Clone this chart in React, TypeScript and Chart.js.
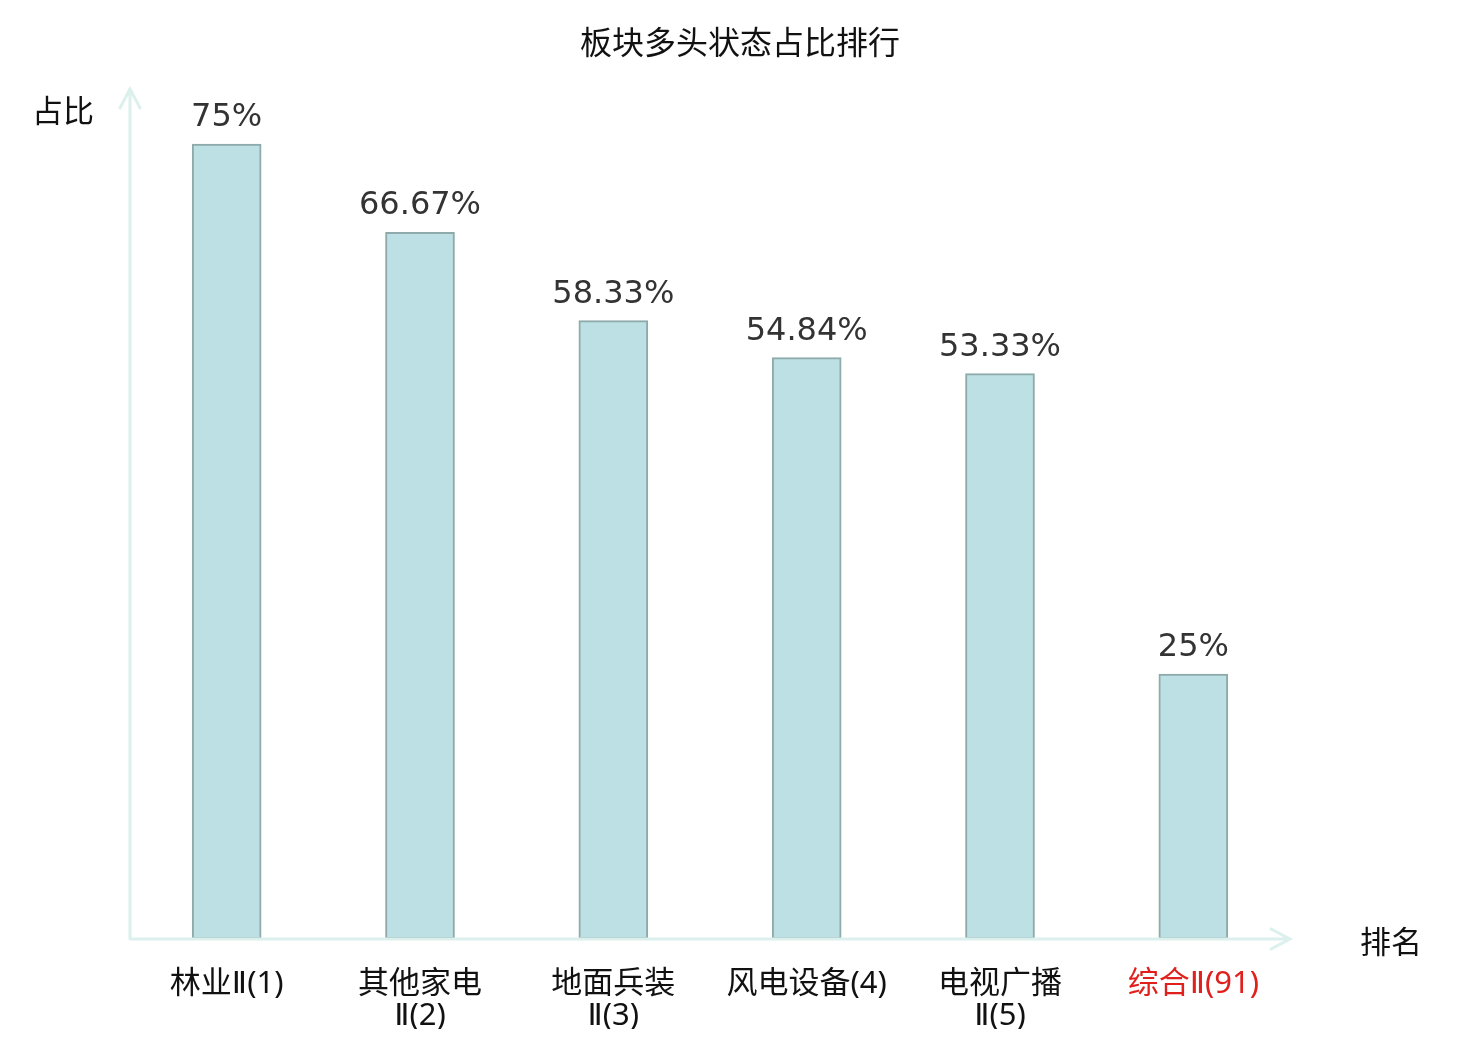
import { useEffect, useRef } from 'react';
import { Chart, registerables, Plugin } from 'chart.js';

Chart.register(...registerables);

const categories: (string | string[])[] = [
  '林业Ⅱ(1)',
  ['其他家电', 'Ⅱ(2)'],
  ['地面兵装', 'Ⅱ(3)'],
  '风电设备(4)',
  ['电视广播', 'Ⅱ(5)'],
  '综合Ⅱ(91)',
];
const ratios = [75, 66.67, 58.33, 54.84, 53.33, 25];
const highlightIndex = 5;

const TITLE = '板块多头状态占比排行';
const Y_NAME = '占比';
const X_NAME = '排名';

const AXIS_COLOR = '#dcf0ee';
const CJK = '"Noto Sans CJK SC", "DejaVu Sans", sans-serif';
const TICK_FONT = '"Noto Sans", "DejaVu Sans", "Noto Sans CJK SC", sans-serif';

const decorPlugin: Plugin<'bar'> = {
  id: 'decor',
  afterDraw(chart) {
    const { ctx, chartArea } = chart;
    const y = chart.scales.y;
    const base = y.getPixelForValue(0);
    const left = chartArea.left;
    const right = chartArea.right;
    const top = chartArea.top;

    ctx.save();
    // axes with arrows
    ctx.strokeStyle = AXIS_COLOR;
    ctx.lineWidth = 3;
    ctx.lineCap = 'round';
    ctx.beginPath();
    ctx.moveTo(left, base);
    ctx.lineTo(right, base);
    ctx.moveTo(right - 19, base - 10);
    ctx.lineTo(right, base);
    ctx.lineTo(right - 19, base + 10);
    ctx.moveTo(left, base);
    ctx.lineTo(left, top - 2);
    ctx.moveTo(left - 10, top + 17);
    ctx.lineTo(left, top - 2);
    ctx.lineTo(left + 10, top + 17);
    ctx.stroke();

    // value labels
    ctx.fillStyle = '#333333';
    ctx.font = '32px "DejaVu Sans", sans-serif';
    ctx.textAlign = 'center';
    ctx.textBaseline = 'alphabetic';
    const meta = chart.getDatasetMeta(0);
    meta.data.forEach((bar, i) => {
      ctx.fillText(`${ratios[i]}%`, bar.x, bar.y - 18);
    });

    // title and axis names
    ctx.fillStyle = '#111111';
    ctx.font = `32px ${CJK}`;
    ctx.textBaseline = 'middle';
    ctx.fillText(TITLE, chart.width / 2, 34);
    ctx.font = `31px ${CJK}`;
    ctx.fillText(Y_NAME, 55, 102);
    ctx.fillText(X_NAME, 1383, base + 2);
    ctx.restore();
  },
};

function BarChart() {
  const canvasRef = useRef<HTMLCanvasElement>(null);
  const chartRef = useRef<Chart | null>(null);

  useEffect(() => {
    if (!canvasRef.current) return;
    if (chartRef.current) chartRef.current.destroy();

    chartRef.current = new Chart(canvasRef.current, {
      type: 'bar',
      data: {
        labels: categories,
        datasets: [
          {
            data: ratios,
            backgroundColor: '#bce0e3',
            borderColor: '#8eaaaa',
            borderWidth: 2,
            borderSkipped: false,
            barThickness: 69,
          },
        ],
      },
      options: {
        responsive: true,
        maintainAspectRatio: false,
        animation: false,
        layout: { padding: { left: 122, right: 182, top: 83, bottom: 3 } },
        plugins: {
          legend: { display: false },
          tooltip: { enabled: false },
          title: { display: false },
        },
        scales: {
          x: {
            grid: { display: false },
            border: { display: false },
            ticks: {
              padding: 21,
              font: { family: TICK_FONT, size: 31, weight: '400', lineHeight: 32 / 31 },
              color: (c) => (c.index === highlightIndex ? '#e0201c' : '#111111'),
              maxRotation: 0,
              autoSkip: false,
            },
            afterFit: (scale) => {
              scale.height = 90;
            },
          },
          y: {
            display: false,
            min: 0,
            max: 80,
          },
        },
      },
      plugins: [decorPlugin],
    });

    return () => {
      if (chartRef.current) {
        chartRef.current.destroy();
        chartRef.current = null;
      }
    };
  }, []);

  return (
    <div style={{ width: 1464, height: 1024 }}>
      <canvas ref={canvasRef} />
    </div>
  );
}

export default function App() {
  return <BarChart />;
}
